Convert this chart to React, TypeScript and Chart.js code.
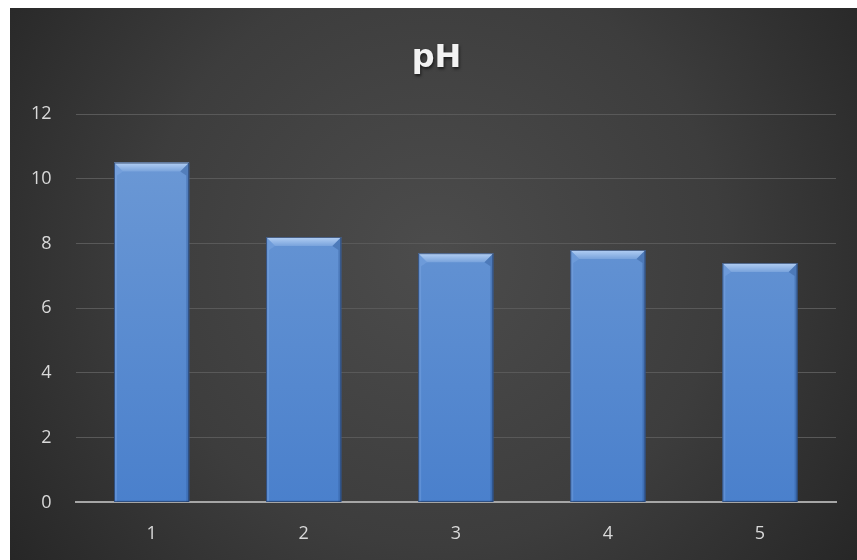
import React, { useEffect, useRef } from "react";
import { Chart, registerables } from "chart.js";

Chart.register(...registerables);

const categories = ["1", "2", "3", "4", "5"];
const phValues = [10.5, 8.2, 7.7, 7.8, 7.4];
const titleText = "pH";

const bgPlugin = {
  id: "bgPlugin",
  beforeDraw(chart: any) {
    const { ctx, width, height } = chart;
    ctx.save();
    const g = ctx.createRadialGradient(width / 2, height * 0.45, 0, width / 2, height * 0.45, width * 0.62);
    g.addColorStop(0, "#4c4c4c");
    g.addColorStop(0.55, "#3d3d3d");
    g.addColorStop(1, "#262626");
    ctx.fillStyle = g;
    ctx.fillRect(0, 0, width, height);
    ctx.restore();
  },
};

const titlePlugin = {
  id: "titlePlugin",
  afterDraw(chart: any) {
    const { ctx, width } = chart;
    ctx.save();
    ctx.font = "bold 32px 'DejaVu Sans', sans-serif";
    ctx.textAlign = "center";
    ctx.textBaseline = "alphabetic";
    ctx.shadowColor = "rgba(0,0,0,0.6)";
    ctx.shadowBlur = 3;
    ctx.shadowOffsetX = 1;
    ctx.shadowOffsetY = 2;
    ctx.fillStyle = "#f2f2f2";
    ctx.fillText(titleText, width / 2 + 3, 59);
    ctx.restore();
  },
};

const bevelPlugin = {
  id: "bevelPlugin",
  afterDatasetsDraw(chart: any) {
    const { ctx } = chart;
    const meta = chart.getDatasetMeta(0);
    ctx.save();
    meta.data.forEach((bar: any) => {
      const props = bar.getProps(["x", "y", "width", "base"], true);
      const left = props.x - props.width / 2;
      const right = props.x + props.width / 2;
      const top = props.y;
      const base = props.base;
      const b = 9;
      const s = 3;
      const tg = ctx.createLinearGradient(0, top, 0, top + b);
      tg.addColorStop(0, "#b4d0f4");
      tg.addColorStop(1, "#79a3dc");
      ctx.fillStyle = tg;
      ctx.beginPath();
      ctx.moveTo(left, top);
      ctx.lineTo(right, top);
      ctx.lineTo(right - b, top + b);
      ctx.lineTo(left + b, top + b);
      ctx.closePath();
      ctx.fill();
      ctx.fillStyle = "rgba(140,180,235,0.3)";
      ctx.beginPath();
      ctx.moveTo(left, top);
      ctx.lineTo(left + b, top + b);
      ctx.lineTo(left + s, top + b + 4);
      ctx.lineTo(left + s, base);
      ctx.lineTo(left, base);
      ctx.closePath();
      ctx.fill();
      ctx.fillStyle = "rgba(40,80,140,0.35)";
      ctx.beginPath();
      ctx.moveTo(right, top);
      ctx.lineTo(right - b, top + b);
      ctx.lineTo(right - s, top + b + 4);
      ctx.lineTo(right - s, base);
      ctx.lineTo(right, base);
      ctx.closePath();
      ctx.fill();
      ctx.strokeStyle = "rgba(30,50,85,0.7)";
      ctx.lineWidth = 1;
      ctx.strokeRect(left + 0.5, top + 0.5, props.width - 1, base - top - 1);
    });
    ctx.restore();
  },
};

export default function App() {
  const ref = useRef<HTMLCanvasElement>(null);
  useEffect(() => {
    const canvas = ref.current!;
    const chart = new Chart(canvas, {
      type: "bar",
      data: {
        labels: categories,
        datasets: [
          {
            label: titleText,
            data: phValues,
            backgroundColor: (c: any) => {
              const area = c.chart.chartArea;
              if (!area) return "#5b8fd4";
              const g = c.chart.ctx.createLinearGradient(0, area.top, 0, area.bottom);
              g.addColorStop(0, "#6f9bd6");
              g.addColorStop(1, "#4a80cc");
              return g;
            },
            borderWidth: 0,
            categoryPercentage: 1,
            barPercentage: 0.495,
          },
        ],
      },
      options: {
        animation: false,
        responsive: false,
        layout: { padding: { left: -3, right: 21, top: 106, bottom: 2 } },
        plugins: {
          legend: { display: false },
          tooltip: { enabled: false },
          title: { display: false },
        },
        scales: {
          x: {
            grid: { display: false },
            border: { display: true, color: "#a6a6a6", width: 2 },
            ticks: {
              color: "#d9d9d9",
              font: { family: "'Open Sans', sans-serif", size: 18 },
              padding: 13,
            },
          },
          y: {
            min: 0,
            max: 12,
            ticks: {
              stepSize: 2,
              color: "#d9d9d9",
              font: { family: "'Open Sans', sans-serif", size: 18 },
              padding: 24,
            },
            grid: { color: "#595959", lineWidth: 1, drawTicks: false },
            border: { display: false },
          },
        },
      },
      plugins: [bgPlugin, bevelPlugin, titlePlugin],
    });
    return () => chart.destroy();
  }, []);
  return (
    <div style={{ position: "absolute", left: 10, top: 8, width: 847, height: 552 }}>
      <canvas ref={ref} width={847} height={552} style={{ display: "block" }} />
    </div>
  );
}
